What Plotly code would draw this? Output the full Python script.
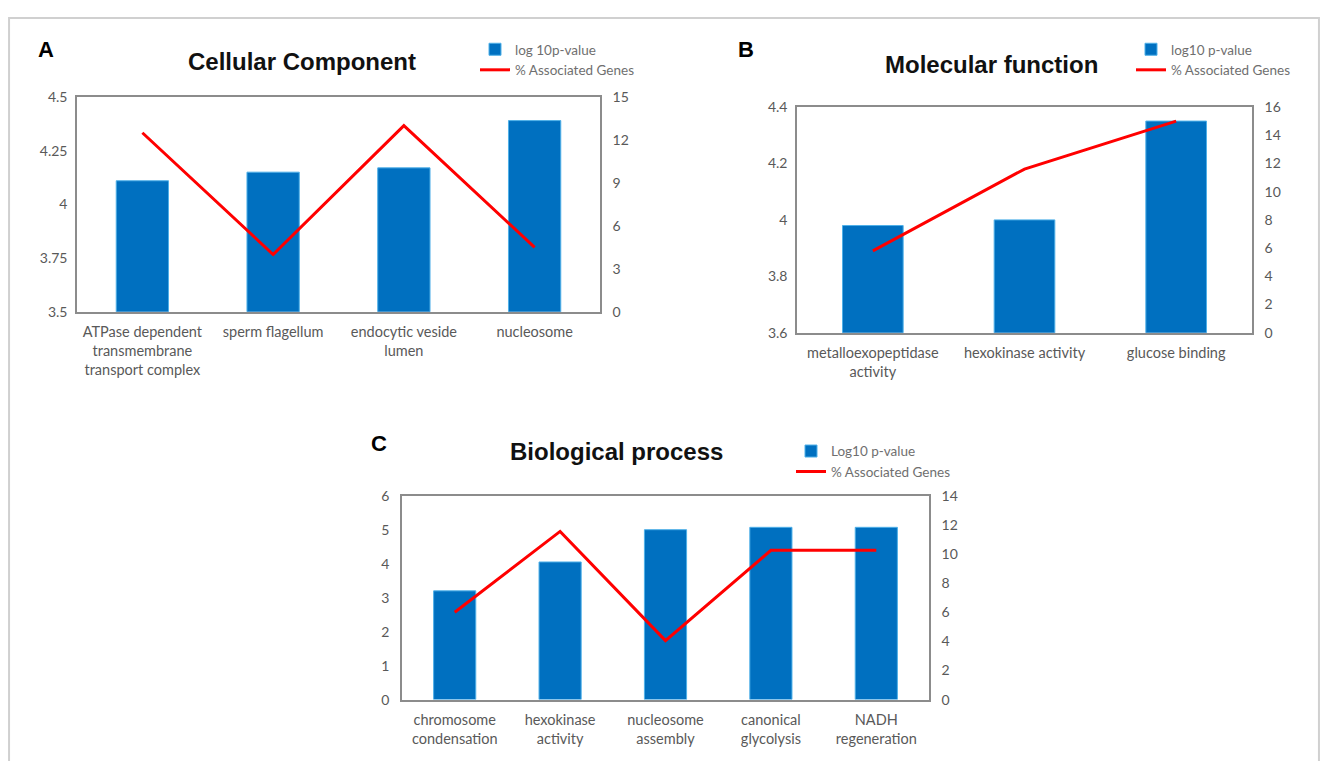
import plotly.graph_objects as go

# figure placement on the 1328x769 page (measured from earlier renders)
OFF_X, OFF_Y, Y_SCALE = 8, 15, 0.978
W, H = 1312, 753

# ---------------- data ----------------
cc_categories = ["ATPase dependent<br>transmembrane<br>transport complex", "sperm flagellum",
                 "endocytic veside<br>lumen", "nucleosome"]
cc_log10p = [4.11, 4.15, 4.17, 4.39]
cc_pct_genes = [12.5, 4.0, 13.0, 4.5]

mf_categories = ["metalloexopeptidase<br>activity", "hexokinase activity", "glucose binding"]
mf_log10p = [3.98, 4.0, 4.35]
mf_pct_genes = [5.8, 11.6, 15.0]

bp_categories = ["chromosome<br>condensation", "hexokinase<br>activity", "nucleosome<br>assembly",
                 "canonical<br>glycolysis", "NADH<br>regeneration"]
bp_log10p = [3.2, 4.05, 5.0, 5.07, 5.07]
bp_pct_genes = [6.0, 11.55, 4.05, 10.25, 10.25]

cc_left_ticks = [3.5, 3.75, 4, 4.25, 4.5]
cc_left_text = ["3.5", "3.75", "4", "4.25", "4.5"]
cc_right_ticks = [0, 3, 6, 9, 12, 15]
mf_left_ticks = [3.6, 3.8, 4, 4.2, 4.4]
mf_left_text = ["3.6", "3.8", "4", "4.2", "4.4"]
mf_right_ticks = [0, 2, 4, 6, 8, 10, 12, 14, 16]
bp_left_ticks = [0, 1, 2, 3, 4, 5, 6]
bp_right_ticks = [0, 2, 4, 6, 8, 10, 12, 14]

BAR_COLOR = "#0070C0"
BAR_EDGE = "#4FB0E8"
LINE_COLOR = "#FF0000"
AXIS_COLOR = "#8C8C8C"
TICK_COLOR = "#595959"
FONT_FAM = "Lato, 'Open Sans', sans-serif"
YTICK_FONT = dict(family=FONT_FAM, size=14, color=TICK_COLOR)
XTICK_FONT = dict(family=FONT_FAM, size=14.5, color=TICK_COLOR)


def px_x(x):
    return (x - OFF_X) / W


def px_y(y):
    return 1 - ((y - OFF_Y) / Y_SCALE) / H


fig = go.Figure()

panels = [
    (cc_categories, cc_log10p, cc_pct_genes, "x", "y", "y2", "log 10p-value", "legend"),
    (mf_categories, mf_log10p, mf_pct_genes, "x2", "y3", "y4", "log10 p-value", "legend2"),
    (bp_categories, bp_log10p, bp_pct_genes, "x3", "y5", "y6", "Log10 p-value", "legend3"),
]

for i, (cats, bars, line, xa, yl, yr, bname, lg) in enumerate(panels):
    fig.add_trace(go.Bar(x=cats, y=bars, name=bname, xaxis=xa, yaxis=yl,
                         marker=dict(color=BAR_COLOR, line=dict(color=BAR_EDGE, width=1)),
                         width=0.4, legend=lg, showlegend=True))
    fig.add_trace(go.Scatter(x=cats, y=line, name="% Associated Genes", xaxis=xa, yaxis=yr,
                             mode="lines", line=dict(color=LINE_COLOR, width=3),
                             legend=lg, showlegend=True))

# plot-area boxes in page pixels (left, top, right, bottom)
boxA = (77, 95, 600, 310)
boxB = (797, 105, 1252, 331)
boxC = (402, 494, 929, 698)


def xdom(b):
    return [px_x(b[0]), px_x(b[2])]


def ydom(b):
    return [px_y(b[3]), px_y(b[1])]


xcommon = dict(showline=True, linecolor=AXIS_COLOR, linewidth=1.5, mirror=True,
               showgrid=False, zeroline=False, ticks="", tickfont=XTICK_FONT,
               ticklabelstandoff=6, fixedrange=True)
ycommon = dict(showline=True, linecolor=AXIS_COLOR, linewidth=1.5, showgrid=False,
               zeroline=False, ticks="", tickfont=YTICK_FONT, fixedrange=True)

fig.update_layout(
    xaxis=dict(domain=xdom(boxA), anchor="y", **xcommon),
    yaxis=dict(domain=ydom(boxA), anchor="x", range=[3.5, 4.5], tickvals=cc_left_ticks,
               ticktext=cc_left_text, ticklabelstandoff=5, **ycommon),
    yaxis2=dict(overlaying="y", side="right", anchor="x", range=[0, 15],
                tickvals=cc_right_ticks, ticklabelstandoff=8, **ycommon),
    xaxis2=dict(domain=xdom(boxB), anchor="y3", **xcommon),
    yaxis3=dict(domain=ydom(boxB), anchor="x2", range=[3.6, 4.4], tickvals=mf_left_ticks,
                ticktext=mf_left_text, ticklabelstandoff=5, **ycommon),
    yaxis4=dict(overlaying="y3", side="right", anchor="x2", range=[0, 16],
                tickvals=mf_right_ticks, ticklabelstandoff=8, **ycommon),
    xaxis3=dict(domain=xdom(boxC), anchor="y5", **xcommon),
    yaxis5=dict(domain=ydom(boxC), anchor="x3", range=[0, 6], tickvals=bp_left_ticks,
                ticklabelstandoff=8, **ycommon),
    yaxis6=dict(overlaying="y5", side="right", anchor="x3", range=[0, 14],
                tickvals=bp_right_ticks, ticklabelstandoff=8, **ycommon),
)

legend_common = dict(xanchor="left", yanchor="top", bgcolor="rgba(0,0,0,0)",
                     font=dict(family=FONT_FAM, size=13.5, color="#6F6F6F"),
                     itemwidth=30, tracegroupgap=0, borderwidth=0)
fig.update_layout(
    legend=dict(x=px_x(475), y=px_y(32), **legend_common),
    legend2=dict(x=px_x(1131), y=px_y(32), **legend_common),
    legend3=dict(x=px_x(791), y=px_y(434), **legend_common),
)

annotations = []
TITLE_FONT = dict(family="'Liberation Sans', Arial, sans-serif", size=24, color="#111111")
LETTER_FONT = dict(family="'Liberation Sans', Arial, sans-serif", size=22, color="#000000")
for text, cx, cy in [("<b>Cellular Component</b>", 302, 60),
                     ("<b>Molecular function</b>", 991, 63),
                     ("<b>Biological process</b>", 616, 450)]:
    annotations.append(dict(text=text, x=px_x(cx), y=px_y(cy), xref="paper", yref="paper",
                            showarrow=False, xanchor="center", yanchor="middle", font=TITLE_FONT))
for text, cx, cy in [("<b>A</b>", 46, 48), ("<b>B</b>", 746, 48), ("<b>C</b>", 379, 442)]:
    annotations.append(dict(text=text, x=px_x(cx), y=px_y(cy), xref="paper", yref="paper",
                            showarrow=False, xanchor="center", yanchor="middle", font=LETTER_FONT))

fig.update_layout(
    annotations=annotations,
    shapes=[dict(type="rect", xref="paper", yref="paper", x0=0.0008, x1=0.9992,
                 y0=-0.05, y1=0.9988, line=dict(color="#D0D0D0", width=2),
                 fillcolor="rgba(0,0,0,0)", layer="below")],
    width=W, height=H, margin=dict(l=0, r=0, t=0, b=0),
    paper_bgcolor="white", plot_bgcolor="white",
)

fig.write_html("out.html", config={"displayModeBar": False})
